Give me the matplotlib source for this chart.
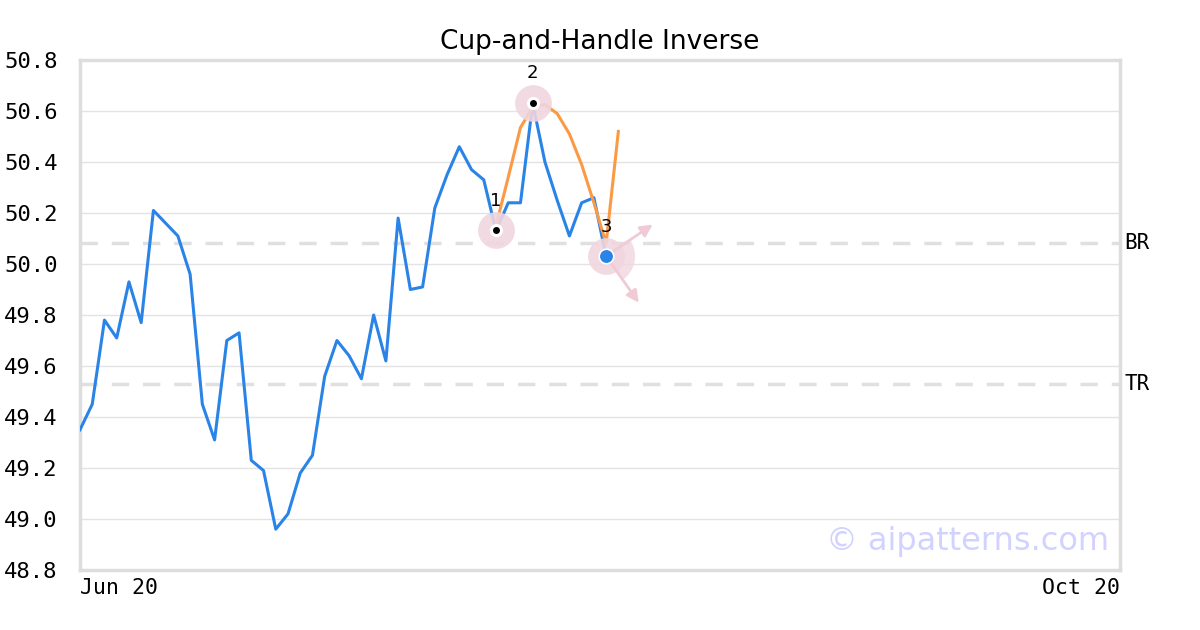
import matplotlib.pyplot as plt
import matplotlib.transforms as mtransforms
from matplotlib.patches import Wedge
import numpy as np

# price series (one value per trading day from Jun 20)
prices = [49.35, 49.45, 49.78, 49.71, 49.93, 49.77, 50.21, 50.16, 50.11, 49.96,
          49.45, 49.31, 49.70, 49.73, 49.23, 49.19, 48.96, 49.02, 49.18, 49.25,
          49.56, 49.70, 49.64, 49.55, 49.80, 49.62, 50.18, 49.90, 49.91, 50.22,
          50.35, 50.46, 50.37, 50.33, 50.13, 50.24, 50.24, 50.63, 50.40, 50.25,
          50.11, 50.24, 50.26, 50.03]
# fitted cup-and-handle curve
fit_x = [34, 35, 36, 37, 38, 39, 40, 41, 42, 43, 44]
fit_y = [50.15, 50.34, 50.535, 50.615, 50.625, 50.59, 50.51, 50.39, 50.24, 50.08, 50.52]
# pattern points
pat_x = [34, 37, 43]
pat_y = [50.133, 50.633, 50.031]
pat_lbl = ['1', '2', '3']
# projected directions from point 3
arrow_x = [47.0, 45.8]
arrow_y = [50.161, 49.839]
# levels
level_names = ['BR', 'TR']
level_vals = [50.082, 49.529]
x_ticks = [0, 85]
x_labels = ['Jun 20', 'Oct 20']

fig = plt.figure(figsize=(12, 6.3), dpi=100)
ax = fig.add_axes([80/1200, 60/630, 1040/1200, 510/630])

days = np.arange(len(prices))
ax.plot(days, prices, color='#2a84e8', lw=2.2, zorder=3)
ax.plot(fit_x, fit_y, color='#fb9a45', lw=2.2, zorder=4)

for name, v in zip(level_names, level_vals):
    ax.axhline(v, color='#e0e0e0', lw=2.5, dashes=(5, 4), zorder=1)
    ax.text(1.004, v, name, transform=ax.get_yaxis_transform(), fontsize=15,
            family='DejaVu Sans Mono', va='center', ha='left')

# halos and markers
ax.scatter(pat_x, pat_y, s=700, color='#f0d6df', alpha=0.9, zorder=5, lw=0)
ax.scatter(pat_x[:2], pat_y[:2], s=90, color='white', zorder=6, lw=0)
ax.scatter(pat_x[:2], pat_y[:2], s=25, color='black', zorder=7, lw=0)
ax.scatter(pat_x[2:], pat_y[2:], s=110, color='#2a84e8', edgecolor='white',
           lw=1.2, zorder=7)
for px, py, t in zip(pat_x, pat_y, pat_lbl):
    ax.annotate(t, (px, py), xytext=(0, 21), textcoords='offset points',
                ha='center', va='center', fontsize=13, zorder=8)

# direction wedge and arrows at point 3
tr = fig.dpi_scale_trans + mtransforms.ScaledTranslation(pat_x[2], pat_y[2], ax.transData)
ax.add_patch(Wedge((0, 0), 0.29, -56, 34, transform=tr, color='#f0d6df',
                   alpha=0.8, lw=0, zorder=4))
for tx, ty in zip(arrow_x, arrow_y):
    ax.annotate('', xy=(tx, ty), xytext=(pat_x[2], pat_y[2]),
                arrowprops=dict(arrowstyle='-|>', color='#f0cbd6', lw=2,
                                mutation_scale=18), zorder=5)

ax.text(0.99, 0.055, '\u00a9 aipatterns.com', transform=ax.transAxes, ha='right',
        va='center', fontsize=23, color='#d2d2ff', zorder=2)

ax.set_xlim(0, 85)
ax.set_ylim(48.8, 50.8)
yt = np.arange(48.8, 50.81, 0.2)
ax.set_yticks(yt)
ax.set_yticklabels(['%.1f' % v for v in yt], family='DejaVu Sans Mono', fontsize=16)
ax.set_xticks(x_ticks)
ax.set_xticklabels(x_labels, family='DejaVu Sans Mono', fontsize=15.5)
xl = ax.get_xticklabels()
xl[0].set_ha('left')
xl[1].set_ha('right')
ax.tick_params(length=0, pad=6)
ax.tick_params(axis='y', pad=16)
ax.grid(axis='y', color='#e3e3e3', lw=1)
for s in ax.spines.values():
    s.set_color('#dddddd')
    s.set_linewidth(2.5)
ax.set_title('Cup-and-Handle Inverse', fontsize=19, pad=8)

fig.savefig('out.png')
